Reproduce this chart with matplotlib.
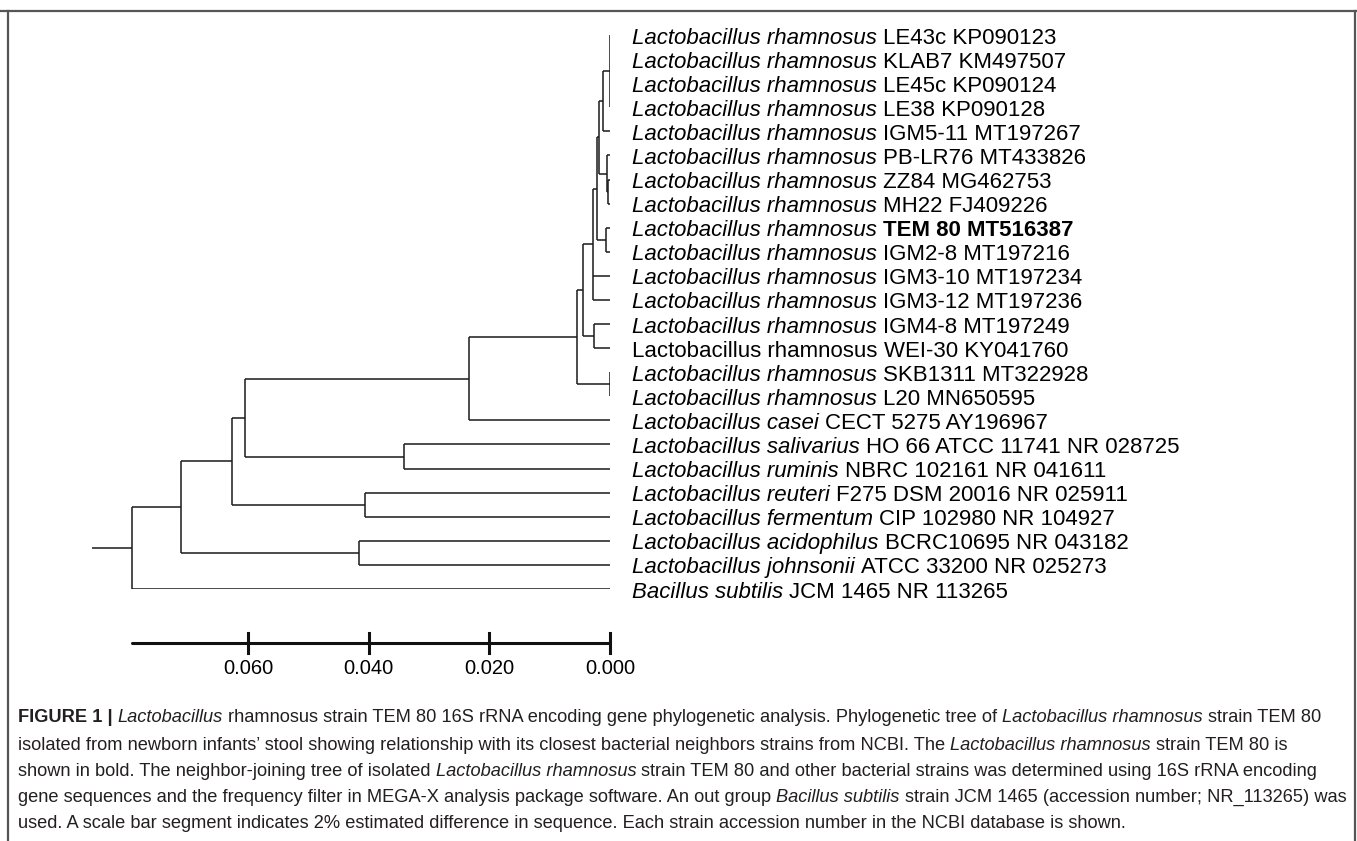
import matplotlib
matplotlib.use("Agg")
import matplotlib.pyplot as plt
from matplotlib import font_manager

# leaves, top to bottom: (genus + species, strain / accession, species italic?, strain bold?)
leaf_species = ["Lactobacillus rhamnosus"] * 16 + [
    "Lactobacillus casei", "Lactobacillus salivarius", "Lactobacillus ruminis",
    "Lactobacillus reuteri", "Lactobacillus fermentum", "Lactobacillus acidophilus",
    "Lactobacillus johnsonii", "Bacillus subtilis"]
leaf_strain = [
    "LE43c KP090123", "KLAB7 KM497507", "LE45c KP090124", "LE38 KP090128",
    "IGM5-11 MT197267", "PB-LR76 MT433826", "ZZ84 MG462753", "MH22 FJ409226",
    "TEM 80 MT516387", "IGM2-8 MT197216", "IGM3-10 MT197234", "IGM3-12 MT197236",
    "IGM4-8 MT197249", "WEI-30 KY041760", "SKB1311 MT322928", "L20 MN650595",
    "CECT 5275 AY196967", "HO 66 ATCC 11741 NR 028725", "NBRC 102161 NR 041611",
    "F275 DSM 20016 NR 025911", "CIP 102980 NR 104927", "BCRC10695 NR 043182",
    "ATCC 33200 NR 025273", "JCM 1465 NR 113265"]
leaf_italic = [True] * 13 + [False] + [True] * 10
bold_leaf = 8

# internal nodes: children (leaf index or node name) and distance from the tips
node_children = {
    "n1": [0, 1, 2, 3],
    "n2": ["n1", 4],
    "n3": [6, 7],
    "n4": [5, "n3"],
    "n5": ["n2", "n4"],
    "n6": [8, 9],
    "n7": ["n5", "n6"],
    "n8": ["n7", 10, 11],
    "n9": [12, 13],
    "n10": ["n8", "n9"],
    "n11": [14, 15],
    "n12": ["n10", "n11"],
    "n13": ["n12", 16],
    "n14": [17, 18],
    "n15": ["n13", "n14"],
    "n16": [19, 20],
    "n17": ["n15", "n16"],
    "n18": [21, 22],
    "n19": ["n17", "n18"],
    "root": ["n19", 23],
}
node_depth = {
    "n1": 0.0, "n2": 0.00116, "n3": 0.00025, "n4": 0.0005, "n5": 0.00182,
    "n6": 0.00066, "n7": 0.00215, "n8": 0.00282, "n9": 0.00265, "n10": 0.00447,
    "n11": 0.0, "n12": 0.00547, "n13": 0.02336, "n14": 0.03413, "n15": 0.06056,
    "n16": 0.0406, "n17": 0.06264, "n18": 0.0416, "n19": 0.07109, "root": 0.0792,
}
root_stub = 0.0066
scale_ticks = [0.06, 0.04, 0.02, 0.0]
scale_labels = ["0.060", "0.040", "0.020", "0.000"]

caption = [
    [("FIGURE 1 |", "bold"), ("Lactobacillus", "italic"),
     ("rhamnosus strain TEM 80 16S rRNA encoding gene phylogenetic analysis. Phylogenetic tree of", "normal"),
     ("Lactobacillus rhamnosus", "italic"), ("strain TEM 80", "normal")],
    [("isolated from newborn infants\u2019 stool showing relationship with its closest bacterial neighbors strains from NCBI. The", "normal"),
     ("Lactobacillus rhamnosus", "italic"), ("strain TEM 80 is", "normal")],
    [("shown in bold. The neighbor-joining tree of isolated", "normal"), ("Lactobacillus rhamnosus", "italic"),
     ("strain TEM 80 and other bacterial strains was determined using 16S rRNA encoding", "normal")],
    [("gene sequences and the frequency filter in MEGA-X analysis package software. An out group", "normal"),
     ("Bacillus subtilis", "italic"), ("strain JCM 1465 (accession number; NR_113265) was", "normal")],
    [("used. A scale bar segment indicates 2% estimated difference in sequence. Each strain accession number in the NCBI database is shown.", "normal")],
]

W, H = 1357, 841
fig = plt.figure(figsize=(W / 100, H / 100), dpi=100)
fig.patch.set_facecolor("white")
r = fig.canvas.get_renderer()

px_per_unit = 120.7 / 0.02
ax = fig.add_axes([60 / W, 1 - 589 / H, 550 / W, 554 / H])
ax.set_xlim(550 / px_per_unit, 0)
ax.set_ylim(len(leaf_strain) - 1, 0)
ax.axis("off")

line_kw = dict(color="#1a1a1a", lw=1.1, solid_capstyle="butt")


def pos(c):
    if isinstance(c, int):
        return 0.0, float(c)
    kids = [pos(k) for k in node_children[c]]
    return node_depth[c], (kids[0][1] + kids[-1][1]) / 2


for name, kids in node_children.items():
    x, y = pos(name)
    kp = [pos(k) for k in kids]
    ax.plot([x, x], [kp[0][1], kp[-1][1]], **line_kw)
    for kx, ky in kp:
        ax.plot([x, kx], [ky, ky], **line_kw)
rx, ry = pos("root")
ax.plot([rx + root_stub, rx], [ry, ry], **line_kw)

# leaf labels
FONT = "Liberation Sans"
space_w = None
for i, (sp, st) in enumerate(zip(leaf_species, leaf_strain)):
    t1 = ax.annotate(sp, xy=(0, i), xytext=(22, -3), textcoords="offset pixels",
                     va="center", ha="left", fontsize=16, family=FONT,
                     style="italic" if leaf_italic[i] else "normal", annotation_clip=False)
    if space_w is None:
        a = ax.text(0, 0, "x x", fontsize=16, family=FONT)
        b = ax.text(0, 0, "xx", fontsize=16, family=FONT)
        space_w = a.get_window_extent(r).width - b.get_window_extent(r).width
        a.remove()
        b.remove()
    w = t1.get_window_extent(r).width
    ax.annotate(st, xy=(0, i), xytext=(22 + w + space_w, -3), textcoords="offset pixels",
                va="center", ha="left", fontsize=16, family=FONT,
                weight="bold" if i == bold_leaf else "normal", annotation_clip=False)

# scale bar
row_px = 554 / (len(leaf_strain) - 1)
bar_y = (643 - 35) / row_px
tick_h = 10 / row_px
ax.plot([node_depth["root"], 0], [bar_y, bar_y], color="#111111", lw=2.2, clip_on=False,
        solid_capstyle="round")
for t, lab in zip(scale_ticks, scale_labels):
    ax.plot([t, t], [bar_y - tick_h, bar_y + tick_h], color="#111111", lw=2.2, clip_on=False)
    ax.text(t, (668 - 35) / row_px, lab, ha="center", va="center", fontsize=14.5,
            family=FONT, clip_on=False)

# frame
fig.add_artist(plt.Line2D([0, 1], [1 - 10.5 / H] * 2, color="#555555", lw=1.6))
fig.add_artist(plt.Line2D([7.5 / W] * 2, [1 - 10.5 / H, 0], color="#555555", lw=1.6))
fig.add_artist(plt.Line2D([1354.5 / W] * 2, [1 - 10.5 / H, 0], color="#555555", lw=1.6))

# caption
names = {f.name for f in font_manager.fontManager.ttflist}
CFONT = "Liberation Sans Narrow" if "Liberation Sans Narrow" in names else "Liberation Sans"


def seg_width(txt, style, size):
    t = fig.text(0, 0, txt, fontsize=size, family=CFONT,
                 weight="bold" if style == "bold" else "normal",
                 style="italic" if style == "italic" else "normal")
    w = t.get_window_extent(r).width
    t.remove()
    return w


csp = seg_width("x x", "normal", 10) - seg_width("xx", "normal", 10)
w5 = seg_width(caption[4][0][0], "normal", 10)
csize = 10 * 1113 / w5
csp = csp * csize / 10
for k, segs in enumerate(caption):
    x = 18
    y = [718, 745, 771, 797, 823][k]
    for txt, style in segs:
        t = fig.text(x / W, 1 - y / H, txt, fontsize=csize, family=CFONT, va="center", ha="left",
                     color="#231f20", weight="bold" if style == "bold" else "normal",
                     style="italic" if style == "italic" else "normal")
        x += t.get_window_extent(r).width + csp

fig.savefig("out.png", dpi=100, facecolor="white")
